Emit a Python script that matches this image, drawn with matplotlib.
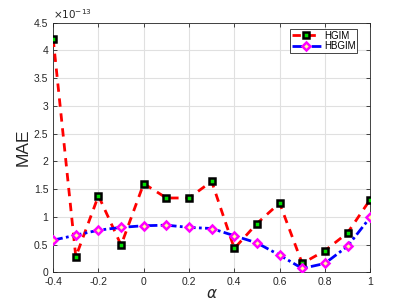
import numpy as np
import matplotlib.pyplot as plt

plt.rcParams['font.family'] = ['Liberation Sans', 'DejaVu Sans']

alpha = [-0.4, -0.3, -0.2, -0.1, 0.0, 0.1, 0.2, 0.3, 0.4, 0.5, 0.6, 0.7, 0.8, 0.9, 1.0]
hgim = np.array([4.21, 0.28, 1.38, 0.49, 1.60, 1.34, 1.34, 1.64, 0.43, 0.88,
                 1.25, 0.16, 0.39, 0.71, 1.31]) * 1e-13
hbgim = np.array([0.58, 0.67, 0.76, 0.81, 0.84, 0.85, 0.81, 0.79, 0.66, 0.53,
                  0.31, 0.07, 0.16, 0.47, 0.99]) * 1e-13

fig = plt.figure(figsize=(4.09, 3.06), dpi=100)
ax = fig.add_axes([0.130, 0.110, 0.775, 0.816])

ax.plot(alpha, hgim, color='red', linestyle=(0, (3, 2.4)), linewidth=2.0,
        marker='s', markersize=4.5, markerfacecolor='#00dd00',
        markeredgecolor='black', markeredgewidth=1.8, label='HGIM', zorder=3)
ax.plot(alpha, hbgim, color='blue', linestyle=(0, (3.5, 1.2, 1, 1.2)), linewidth=2.0,
        marker='D', markersize=4.5, markerfacecolor='#ffff99',
        markeredgecolor='magenta', markeredgewidth=1.8, label='HBGIM', zorder=4)

ax.set_xlim(-0.4, 1.0)
ax.set_ylim(0, 4.5e-13)
ax.set_xticks([-0.4, -0.2, 0, 0.2, 0.4, 0.6, 0.8, 1.0])
ax.set_xticklabels(['-0.4', '-0.2', '0', '0.2', '0.4', '0.6', '0.8', '1'])
ax.set_yticks(np.arange(0, 4.51e-13, 0.5e-13))
ax.set_yticklabels(['0', '0.5', '1', '1.5', '2', '2.5', '3', '3.5', '4', '4.5'])
ax.text(0.0, 1.005, r'$\times10^{-13}$', transform=ax.transAxes, fontsize=7.5,
        color='#262626', ha='left', va='bottom')

ax.grid(True, color='#e0e0e0', linewidth=0.8)
ax.set_axisbelow(True)
ax.tick_params(direction='in', length=3, width=0.6, labelsize=7.5, colors='#262626',
               top=True, right=True)
for s in ax.spines.values():
    s.set_linewidth(0.6)
    s.set_color('#262626')

ax.set_ylabel('MAE', fontsize=12.5, color='#262626', labelpad=2)
ax.set_xlabel(r'$\alpha$', fontsize=11, color='#262626', labelpad=0)

leg = ax.legend(loc='upper right', bbox_to_anchor=(0.96, 0.975), fontsize=7,
                fancybox=False, edgecolor='#262626', framealpha=1,
                handlelength=3.0, handletextpad=0.3, borderpad=0.2,
                labelspacing=0.05, borderaxespad=0, markerscale=0.85)
leg.get_frame().set_linewidth(0.6)

fig.savefig('out.png', dpi=100)
